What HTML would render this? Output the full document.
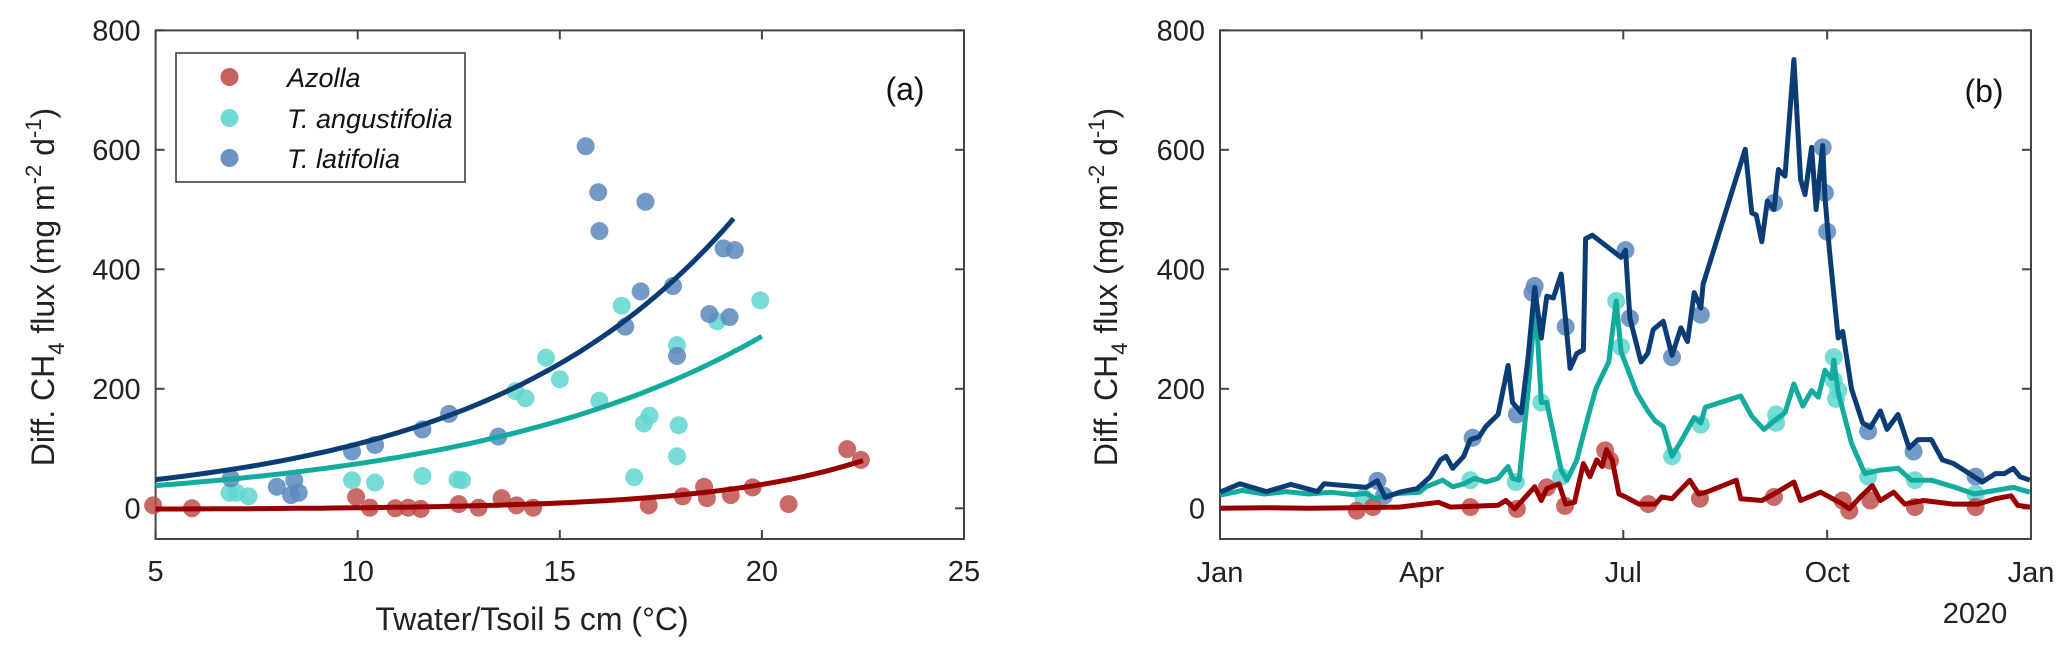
<!DOCTYPE html>
<html><head><meta charset="utf-8"><style>
html,body{margin:0;padding:0;background:#fff;}
svg{display:block;font-family:"Liberation Sans",sans-serif;}
</style></head><body>
<svg id="fig" width="2067" height="652" viewBox="0 0 2067 652" xmlns="http://www.w3.org/2000/svg">
<g id="pa"></g>
<g id="pb"></g>
</svg>
<script>
// ---------- Panel (a) data ----------
const latX=[6.86,8.0,8.43,8.35,8.54,9.86,10.43,11.6,12.26,13.48,15.64,15.95,15.98,17.12,17.0,16.62,17.8,17.9,18.7,19.05,19.33,19.2];
const latY=[50,36,47,22,26,95,106,132,158,120,606,529,464,513,363,304,372,255,325,435,432,320];
const angX=[6.83,7.0,7.3,9.86,10.43,11.6,12.47,12.58,13.9,14.15,14.66,15.0,15.98,16.53,16.84,17.08,17.22,17.9,17.94,17.9,18.89,19.96];
const angY=[26,26,20,47,43,54,48,47,196,184,252,216,180,339,52,142,155,273,139,87,313,348];
const azoX=[4.94,5.9,9.96,10.3,10.93,11.25,11.56,12.5,12.99,13.56,13.93,14.34,17.2,18.04,18.57,18.64,19.23,19.77,20.66,22.11,22.45];
const azoY=[5,0,19,1,0,1,-1,7,1,17,5,1,5,20,36,17,22,35,7,99,81];
// exponential fits y = a*exp(b*x)+c over [x0,x1]
const fitLat=[21.4,0.1617,0,5,19.3];
const fitAng=[19.35,0.135,0,5,20];
const fitAzo=[0.197,0.268,-2,5,22.5];
const xTicksA=[5,10,15,20,25];
const yTicks=[0,200,400,600,800];
// ---------- Panel (b) data (day of year, flux) ----------
const latDay=[0,9,21,32,44,47,66,71,74.5,81,89,95,99.5,102,105,110,113,117,120,125.5,130,132,136,139,142,145,147.5,150.4,154,156,158,161,164,165,168,181,183,185,190,193,195.5,200,204,208,211,214,217,218,237,240,242,244.5,247,250,252,255,259,262,264,267,269,272,273,275,279,281,285,290,293.5,298,301,306,311,315,321,326,331,337,344,350,354,358,361,365.5];
const latVal=[27,41,28,40,28,41,35,46,18,27,33,53,81,87,67,87,115,120,137,157,239,177,160,251,369,285,355,352,392,313,234,259,265,451,457,420,432,318,245,259,299,313,256,302,279,361,335,375,601,494,491,446,514,500,567,556,751,550,525,604,500,607,522,432,285,296,200,143,135,163,132,157,101,115,115,81,75,61,44,58,58,67,53,47];
const angDay=[0,10,20,30,40,50,60,66,70,75,81,90,93,100.5,105,110,115,120,125.5,130,132,135,139,142.4,145,147.5,154,156.6,161,165.8,169.6,175.4,178.8,181,188,193,196.5,200,204,208,214,217,219,235,240,245.5,250,255,259,263,267,270,273,276,277,279,285,291,298,306,312,321,331,340.5,350,358,365.5];
const angVal=[22,30,24,28,24,27,23,25,16,22,25,27,36,47,36,41,50,44,50,70,50,47,194,347,177,177,64,47,81,149,200,245,347,262,194,163,146,137,87,112,152,143,169,188,154,132,146,160,208,171,197,186,231,217,248,194,109,58,64,67,47,47,36,24,30,35,27];
const azoDay=[0,20,40,60,81,98.6,104,125.5,129,133,142,145,147.5,153,156,160,164,167,170,172.5,174.4,177,180,183,189,196.5,199.4,204,212,216,219.5,229,233,235,244.5,250,259,262,271,281,284,289,294.4,298,304,309,317.5,331,342,350,357,360,365.5];
const azoVal=[0,1,0,1,2,10,2,5,13,-1,36,13,33,41,7,10,75,53,81,70,98,81,24,19,7,7,19,16,47,24,27,41,47,16,13,24,44,13,27,7,-1,19,38,13,27,7,13,7,7,16,21,5,2];
const latPtD=[71,74,114,134,142,141,156,183,185,204,217,250,272,273,274,292.5,313,341];
const latPtV=[46,21,118,157,372,361,304,432,318,253,324,511,604,528,463,129,95,53];
const angPtD=[64.7,113,133.5,145,154,178.8,181,204,217,251,251,277,277,279,278,292.5,313.6,341];
const angPtV=[18,47,44,177,53,347,270,87,140,157,143,253,214,197,183,53,47,24];
const azoPtD=[61.7,69,113,134,147.5,155.7,173.8,176,193.3,216.6,250,281,284,293.5,313.6,341];
const azoPtV=[-4,2,2,-1,35,4,97,80,7,16,19,13,-4,13,2,2];
const monthTicks=[0,91,182,274,366];
const monthLabels=["Jan","Apr","Jul","Oct","Jan"];

const NS="http://www.w3.org/2000/svg";
function mk(tag,attrs,parent){const e=document.createElementNS(NS,tag);for(const k in attrs)e.setAttribute(k,attrs[k]);parent.appendChild(e);return e;}
const C={azoDot:"#c0504d",azoLine:"#990000",angDot:"#5fd6cf",angLine:"#14ab9f",latDot:"#5a87bd",latLine:"#0b3d74"};
const TOP=30.4, Y0=508.3, PXU=0.5975, BOT=539;
const TF=29, AF=32;
const yS=v=>Y0-v*PXU;

function frame(g,L,R,name){
  const r=mk('rect',{x:L,y:TOP,width:R-L,height:BOT-TOP,fill:'none',stroke:'#444','stroke-width':2},g);
  
  
  yTicks.forEach(v=>{
    const y=yS(v);
    mk('line',{x1:L,x2:L+9,y1:y,y2:y,stroke:'#444','stroke-width':2},g);
    mk('line',{x1:R,x2:R-9,y1:y,y2:y,stroke:'#444','stroke-width':2},g);
    const t=mk('text',{x:L-15,y:y+10,'text-anchor':'end','font-size':TF,fill:'#222'},g);
    t.textContent=v;
    
    
  });
}
function ylabel(g,x,name){
  const t=mk('text',{transform:`translate(${x},287) rotate(-90)`,'text-anchor':'middle','font-size':AF,fill:'#222'},g);
  t.innerHTML='Diff. CH<tspan dy="10" font-size="22">4</tspan><tspan dy="-10"> flux (mg m</tspan><tspan dy="-13" font-size="22">-2</tspan><tspan dy="13"> d</tspan><tspan dy="-13" font-size="22">-1</tspan><tspan dy="13">)</tspan>';
  
  
}
function dots(g,xs,ys,fx,col,name){
  xs.forEach((x,i)=>{
    const c=mk('circle',{cx:fx(x),cy:yS(ys[i]),r:9,fill:col,'fill-opacity':0.85},g);
    
    
  });
}
function line(g,xs,ys,fx,col,w,name){
  const p=mk('polyline',{points:xs.map((x,i)=>fx(x).toFixed(1)+','+yS(ys[i]).toFixed(1)).join(' '),fill:'none',stroke:col,'stroke-width':w,'stroke-linejoin':'round'},g);
  
  
}

// ---------- Panel a ----------
const ga=document.getElementById('pa');
const AL=155.6, AR=964;
const xA=v=>AL+(v-5)*(AR-AL)/20;
frame(ga,AL,AR,'panel-a');
xTicksA.forEach(v=>{
  const x=xA(v);
  mk('line',{x1:x,x2:x,y1:BOT,y2:BOT-9,stroke:'#444','stroke-width':2},ga);
  mk('line',{x1:x,x2:x,y1:TOP,y2:TOP+9,stroke:'#444','stroke-width':2},ga);
  const t=mk('text',{x:x,y:581,'text-anchor':'middle','font-size':TF,fill:'#222'},ga);
  t.textContent=v;
  
  
});
ylabel(ga,54,'y-axis-title-a');
const xt=mk('text',{x:532,y:630,'text-anchor':'middle','font-size':AF,fill:'#222'},ga);
xt.textContent='Twater/Tsoil 5 cm (°C)';


dots(ga,azoX,azoY,xA,C.azoDot,'azolla-point');
dots(ga,angX,angY,xA,C.angDot,'angustifolia-point');
dots(ga,latX,latY,xA,C.latDot,'latifolia-point');
function curve(f,col,name){
  const xs=[],ys=[];
  for(let i=0;i<=60;i++){const x=f[3]+(f[4]-f[3])*i/60;xs.push(x);ys.push(f[0]*Math.exp(f[1]*x)+f[2]);}
  line(ga,xs,ys,xA,col,5,name);
}
curve(fitAzo,C.azoLine,'azolla-fit');
curve(fitAng,C.angLine,'angustifolia-fit');
curve(fitLat,C.latLine,'latifolia-fit');
// legend
const lg=mk('g',{},ga);


mk('rect',{x:176,y:53,width:289,height:129,fill:'#fff',stroke:'#333','stroke-width':1.5},lg);
[["Azolla",C.azoDot,77],["T. angustifolia",C.angDot,118],["T. latifolia",C.latDot,158]].forEach(e=>{
  const c=mk('circle',{cx:229.5,cy:e[2],r:9,fill:e[1],'fill-opacity':0.9},lg);
  
  
  const t=mk('text',{x:287,y:e[2]+10,'font-size':27,'font-style':'italic',fill:'#111'},lg);
  t.textContent=e[0];
  
  
});
const la=mk('text',{x:905,y:100,'text-anchor':'middle','font-size':AF,fill:'#111'},ga);
la.textContent='(a)';



// ---------- Panel b ----------
const gb=document.getElementById('pb');
const BL=1220, BR=2031;
const xB=d=>BL+d*(BR-BL)/366;
frame(gb,BL,BR,'panel-b');
monthTicks.forEach((d,i)=>{
  const x=xB(d);
  mk('line',{x1:x,x2:x,y1:BOT,y2:BOT-9,stroke:'#444','stroke-width':2},gb);
  mk('line',{x1:x,x2:x,y1:TOP,y2:TOP+9,stroke:'#444','stroke-width':2},gb);
  const t=mk('text',{x:x,y:582,'text-anchor':'middle','font-size':TF,fill:'#222'},gb);
  t.textContent=monthLabels[i];
  
  
});
const yr=mk('text',{x:1975,y:623,'text-anchor':'middle','font-size':TF,fill:'#222'},gb);
yr.textContent='2020';


ylabel(gb,1117,'y-axis-title-b');
dots(gb,latPtD,latPtV,xB,C.latDot,'latifolia-sample');
dots(gb,angPtD,angPtV,xB,C.angDot,'angustifolia-sample');
dots(gb,azoPtD,azoPtV,xB,C.azoDot,'azolla-sample');
line(gb,azoDay,azoVal,xB,C.azoLine,5,'azolla-series');
line(gb,angDay,angVal,xB,C.angLine,5,'angustifolia-series');
line(gb,latDay,latVal,xB,C.latLine,5,'latifolia-series');
const lb=mk('text',{x:1984,y:102,'text-anchor':'middle','font-size':AF,fill:'#111'},gb);
lb.textContent='(b)';


</script>
</body></html>
